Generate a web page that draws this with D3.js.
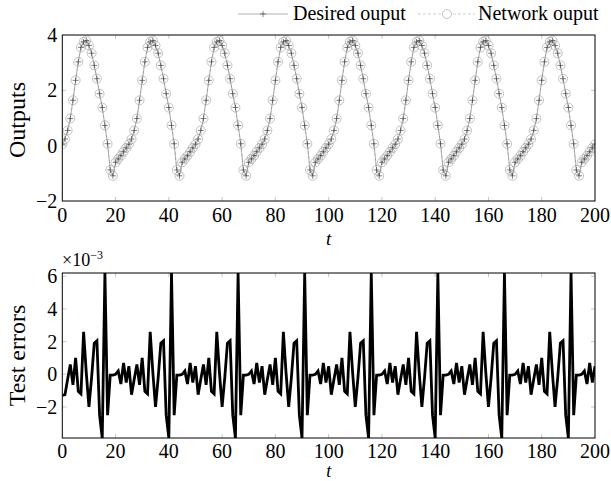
<!DOCTYPE html>
<html>
<head>
<meta charset="utf-8">
<script src="https://cdn.jsdelivr.net/npm/d3@7"></script>
<style>
  body { margin: 0; background: #fff; }
  svg text { font-family: "Liberation Serif", "DejaVu Serif", serif; fill: #000; }
</style>
</head>
<body>
<svg id="chart" width="611" height="481"></svg>
<script>
// desired output, t = 0..200 (one row per 25 samples)
const desired = [
  0.05, 0.24, 0.55, 0.98, 1.64, 2.36, 3.03, 3.55, 3.75, 3.80, 3.62, 3.34, 2.90, 2.42, 1.88, 1.38, 0.73, 0.07, -0.88, -1.09, -0.60, -0.48, -0.36, -0.22, -0.08,
  0.05, 0.24, 0.55, 0.98, 1.64, 2.36, 3.03, 3.55, 3.75, 3.80, 3.62, 3.34, 2.90, 2.42, 1.88, 1.38, 0.73, 0.07, -0.88, -1.09, -0.60, -0.48, -0.36, -0.22, -0.08,
  0.05, 0.24, 0.55, 0.98, 1.64, 2.36, 3.03, 3.55, 3.75, 3.80, 3.62, 3.34, 2.90, 2.42, 1.88, 1.38, 0.73, 0.07, -0.88, -1.09, -0.60, -0.48, -0.36, -0.22, -0.08,
  0.05, 0.24, 0.55, 0.98, 1.64, 2.36, 3.03, 3.55, 3.75, 3.80, 3.62, 3.34, 2.90, 2.42, 1.88, 1.38, 0.73, 0.07, -0.88, -1.09, -0.60, -0.48, -0.36, -0.22, -0.08,
  0.05, 0.24, 0.55, 0.98, 1.64, 2.36, 3.03, 3.55, 3.75, 3.80, 3.62, 3.34, 2.90, 2.42, 1.88, 1.38, 0.73, 0.07, -0.88, -1.09, -0.60, -0.48, -0.36, -0.22, -0.08,
  0.05, 0.24, 0.55, 0.98, 1.64, 2.36, 3.03, 3.55, 3.75, 3.80, 3.62, 3.34, 2.90, 2.42, 1.88, 1.38, 0.73, 0.07, -0.88, -1.09, -0.60, -0.48, -0.36, -0.22, -0.08,
  0.05, 0.24, 0.55, 0.98, 1.64, 2.36, 3.03, 3.55, 3.75, 3.80, 3.62, 3.34, 2.90, 2.42, 1.88, 1.38, 0.73, 0.07, -0.88, -1.09, -0.60, -0.48, -0.36, -0.22, -0.08,
  0.05, 0.24, 0.55, 0.98, 1.64, 2.36, 3.03, 3.55, 3.75, 3.80, 3.62, 3.34, 2.90, 2.42, 1.88, 1.38, 0.73, 0.07, -0.88, -1.09, -0.60, -0.48, -0.36, -0.22, -0.08,
  0.05
]

// test errors (x 1e-3), t = 0..200
const errors = [
  -1.30, -1.25, -0.30, 0.60, -0.64, 1.00, -1.05, -1.20, 2.60, 0.10, -2.00, -0.20, 1.90, 2.05, -2.50, -3.90, 6.20, -2.50, -0.05, -0.05, 0.00, 0.20, -0.60, 0.70, -0.50,
  0.50, -1.25, -0.30, 0.60, -0.64, 1.00, -1.05, -1.20, 2.60, 0.10, -2.00, -0.20, 1.90, 2.05, -2.50, -3.90, 6.20, -2.50, -0.05, -0.05, 0.00, 0.20, -0.60, 0.70, -0.50,
  0.50, -1.25, -0.30, 0.60, -0.64, 1.00, -1.05, -1.20, 2.60, 0.10, -2.00, -0.20, 1.90, 2.05, -2.50, -3.90, 6.20, -2.50, -0.05, -0.05, 0.00, 0.20, -0.60, 0.70, -0.50,
  0.50, -1.25, -0.30, 0.60, -0.64, 1.00, -1.05, -1.20, 2.60, 0.10, -2.00, -0.20, 1.90, 2.05, -2.50, -3.90, 6.20, -2.50, -0.05, -0.05, 0.00, 0.20, -0.60, 0.70, -0.50,
  0.50, -1.25, -0.30, 0.60, -0.64, 1.00, -1.05, -1.20, 2.60, 0.10, -2.00, -0.20, 1.90, 2.05, -2.50, -3.90, 6.20, -2.50, -0.05, -0.05, 0.00, 0.20, -0.60, 0.70, -0.50,
  0.50, -1.25, -0.30, 0.60, -0.64, 1.00, -1.05, -1.20, 2.60, 0.10, -2.00, -0.20, 1.90, 2.05, -2.50, -3.90, 6.20, -2.50, -0.05, -0.05, 0.00, 0.20, -0.60, 0.70, -0.50,
  0.50, -1.25, -0.30, 0.60, -0.64, 1.00, -1.05, -1.20, 2.60, 0.10, -2.00, -0.20, 1.90, 2.05, -2.50, -3.90, 6.20, -2.50, -0.05, -0.05, 0.00, 0.20, -0.60, 0.70, -0.50,
  0.50, -1.25, -0.30, 0.60, -0.64, 1.00, -1.05, -1.20, 2.60, 0.10, -2.00, -0.20, 1.90, 2.05, -2.50, -3.90, 6.20, -2.50, -0.05, -0.05, 0.00, 0.20, -0.60, 0.70, -0.50,
  0.50
]

// network output = desired + error
const network = desired.map((d, i) => d + errors[i] * 1e-3)

const xTicks = [0, 20, 40, 60, 80, 100, 120, 140, 160, 180, 200]
const topYTicks = [-2, 0, 2, 4]
const botYTicks = [-2, 0, 2, 4, 6]
const legendLabels = ['Desired ouput', 'Network ouput']

const svg = d3.select('#chart')
const L = 62.3, R = 595

const x = d3.scaleLinear().domain([0, 200]).range([L, R])
const yTop = d3.scaleLinear().domain([-2, 4]).range([201, 35])
const yBot = d3.scaleLinear().domain([-3.9, 6.2]).range([438, 273])

const fmt = v => v < 0 ? '\u2212' + Math.abs(v) : '' + v

function frame(y, yTicks, id, tickGap, tGap, tSize) {
    let [b, t] = y.range()
    // gray inward ticks on all sides
    let tk = svg.append('g').attr('stroke', '#b8b8b8').attr('stroke-width', 0.8)
    xTicks.slice(1, -1).forEach(v => {
        tk.append('line').attr('x1', x(v)).attr('x2', x(v)).attr('y1', b).attr('y2', b - 4)
        tk.append('line').attr('x1', x(v)).attr('x2', x(v)).attr('y1', t).attr('y2', t + 4)
    })
    yTicks.forEach(v => {
        if (Math.abs(y(v) - t) < 1 || Math.abs(y(v) - b) < 1) return
        tk.append('line').attr('x1', L).attr('x2', L + 4).attr('y1', y(v)).attr('y2', y(v))
        tk.append('line').attr('x1', R).attr('x2', R - 4).attr('y1', y(v)).attr('y2', y(v))
    })

    svg.append('clipPath').attr('id', id)
        .append('rect').attr('x', L).attr('y', t).attr('width', R - L).attr('height', b - t)

    svg.append('g').selectAll('text').data(xTicks).join('text')
        .attr('x', d => x(d)).attr('y', b + tickGap)
        .attr('text-anchor', 'middle').style('font-size', '20px')
        .text(fmt)
    svg.append('g').selectAll('text').data(yTicks).join('text')
        .attr('x', L - 5).attr('y', d => y(d) + 7)
        .attr('text-anchor', 'end').style('font-size', '20px')
        .text(fmt)
    svg.append('text').attr('x', (L + R) / 2).attr('y', b + tGap)
        .attr('text-anchor', 'middle').style('font-size', tSize + 'px').style('font-style', 'italic')
        .text('t')
}

function border(y) {
    let [b, t] = y.range()
    svg.append('rect').attr('x', L).attr('y', t).attr('width', R - L).attr('height', b - t)
        .attr('fill', 'none').attr('stroke', '#000').attr('stroke-width', 1)
}

// ---- top chart
frame(yTop, topYTicks, 'clipTop', 20.5, 44, 19)

let topG = svg.append('g').attr('clip-path', 'url(#clipTop)')
let lineTop = d3.line().x((d, i) => x(i)).y(d => yTop(d))

topG.append('path').datum(network).attr('d', lineTop)
    .attr('fill', 'none').attr('stroke', '#b0b0b0').attr('stroke-width', 0.6).attr('stroke-dasharray', '3,2')
topG.append('g').selectAll('circle').data(network).join('circle')
    .attr('cx', (d, i) => x(i)).attr('cy', d => yTop(d)).attr('r', 4.5)
    .attr('fill', 'none').attr('stroke', '#9a9a9a').attr('stroke-width', 0.6)

topG.append('path').datum(desired).attr('d', lineTop)
    .attr('fill', 'none').attr('stroke', '#7a7a7a').attr('stroke-width', 0.6)
topG.append('g').selectAll('path').data(desired).join('path')
    .attr('d', (d, i) => `M${x(i) - 3},${yTop(d)}h6M${x(i)},${yTop(d) - 3}v6`)
    .attr('stroke', '#333').attr('stroke-width', 0.6)

border(yTop)

svg.append('text').attr('transform', `translate(25,${(35 + 201) / 2 + 2}) rotate(-90)`)
    .attr('text-anchor', 'middle').style('font-size', '24px').text('Outputs')

// legend
let lg = svg.append('g')
lg.append('line').attr('x1', 238).attr('x2', 288).attr('y1', 14).attr('y2', 14)
    .attr('stroke', '#7a7a7a').attr('stroke-width', 0.6)
lg.append('path').attr('d', 'M260,14h6M263,11v6').attr('stroke', '#333').attr('stroke-width', 0.6)
lg.append('text').attr('x', 293).attr('y', 20).style('font-size', '20px').text(legendLabels[0])
lg.append('line').attr('x1', 418).attr('x2', 475).attr('y1', 14).attr('y2', 14)
    .attr('stroke', '#b0b0b0').attr('stroke-width', 0.6).attr('stroke-dasharray', '3,2')
lg.append('circle').attr('cx', 447).attr('cy', 14).attr('r', 4.5)
    .attr('fill', '#fff').attr('stroke', '#9a9a9a').attr('stroke-width', 0.6)
lg.append('text').attr('x', 478).attr('y', 20).style('font-size', '20px').text(legendLabels[1])

// ---- bottom chart
frame(yBot, botYTicks, 'clipBot', 19.5, 38.5, 18)

svg.append('g').attr('clip-path', 'url(#clipBot)')
    .append('path').datum(errors)
    .attr('d', d3.line().x((d, i) => x(i)).y(d => yBot(d)))
    .attr('fill', 'none').attr('stroke', '#000').attr('stroke-width', 2.8)
    .attr('stroke-linejoin', 'miter')

border(yBot)

svg.append('text').attr('transform', `translate(25,${(273 + 438) / 2}) rotate(-90)`)
    .attr('text-anchor', 'middle').style('font-size', '24px').text('Test errors')

let sc = svg.append('text').attr('x', 62).attr('y', 266).style('font-size', '18px')
sc.append('tspan').text('\u00d710')
sc.append('tspan').attr('dy', -7).style('font-size', '12px').text('\u22123')
</script>
</body>
</html>
